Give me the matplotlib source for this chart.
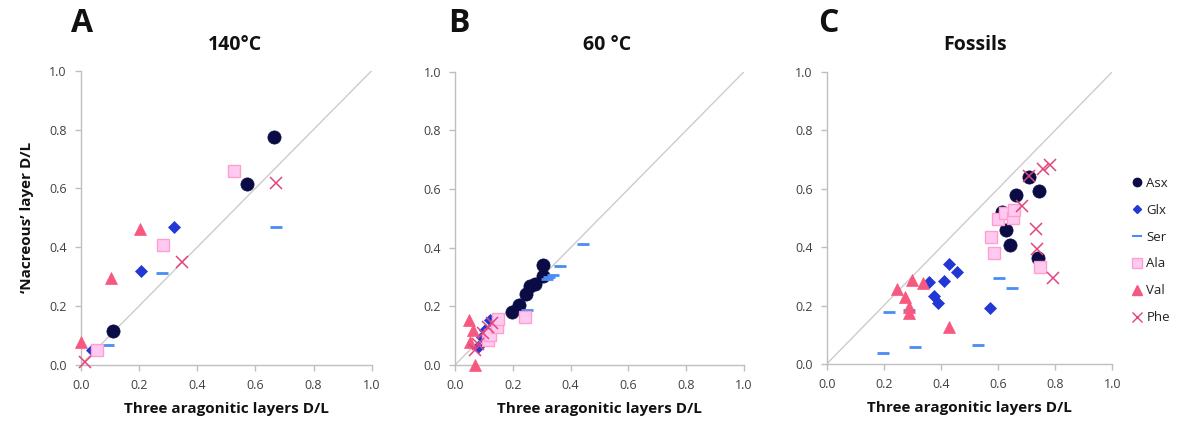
import matplotlib
matplotlib.use("Agg")
import matplotlib.pyplot as plt
from matplotlib.lines import Line2D

plt.rcParams['font.family'] = ['Open Sans', 'DejaVu Sans']

# ---------------- data ----------------
# Panel A: 140 °C
a_asx_x = [0.112, 0.572, 0.663]
a_asx_y = [0.116, 0.616, 0.775]
a_glx_x = [0.038, 0.207, 0.320]
a_glx_y = [0.051, 0.318, 0.468]
a_ser_x = [0.095, 0.279, 0.671]
a_ser_y = [0.068, 0.311, 0.470]
a_ala_x = [0.057, 0.283, 0.528]
a_ala_y = [0.051, 0.407, 0.659]
a_val_x = [0.0, 0.103, 0.205]
a_val_y = [0.079, 0.294, 0.462]
a_phe_x = [0.015, 0.349, 0.670]
a_phe_y = [0.009, 0.351, 0.619]

# Panel B: 60 °C
b_asx_x = [0.196, 0.223, 0.246, 0.260, 0.277, 0.306, 0.306]
b_asx_y = [0.180, 0.205, 0.241, 0.269, 0.275, 0.303, 0.341]
b_glx_x = [0.081, 0.092, 0.104, 0.121]
b_glx_y = [0.062, 0.097, 0.119, 0.153]
b_ser_x = [0.250, 0.317, 0.326, 0.340, 0.363, 0.444]
b_ser_y = [0.186, 0.292, 0.299, 0.307, 0.339, 0.413]
b_ala_x = [0.115, 0.121, 0.144, 0.150, 0.242]
b_ala_y = [0.085, 0.102, 0.128, 0.156, 0.165]
b_val_x = [0.048, 0.052, 0.061, 0.069]
b_val_y = [0.153, 0.080, 0.119, 0.0]
b_phe_x = [0.069, 0.081, 0.098, 0.115, 0.127]
b_phe_y = [0.051, 0.073, 0.108, 0.131, 0.142]

# Panel C: Fossils
c_asx_x = [0.615, 0.628, 0.642, 0.663, 0.708, 0.741, 0.744]
c_asx_y = [0.520, 0.458, 0.407, 0.578, 0.639, 0.361, 0.593]
c_glx_x = [0.359, 0.377, 0.391, 0.412, 0.428, 0.455, 0.572]
c_glx_y = [0.282, 0.234, 0.208, 0.285, 0.341, 0.314, 0.190]
c_ser_x = [0.198, 0.218, 0.289, 0.309, 0.528, 0.603, 0.648]
c_ser_y = [0.037, 0.179, 0.185, 0.059, 0.065, 0.293, 0.261]
c_ala_x = [0.575, 0.587, 0.601, 0.623, 0.651, 0.656, 0.747]
c_ala_y = [0.436, 0.381, 0.496, 0.515, 0.500, 0.527, 0.333]
c_val_x = [0.247, 0.274, 0.289, 0.289, 0.300, 0.338, 0.428]
c_val_y = [0.257, 0.230, 0.196, 0.173, 0.287, 0.276, 0.125]
c_phe_x = [0.683, 0.709, 0.733, 0.737, 0.756, 0.782, 0.791]
c_phe_y = [0.542, 0.643, 0.462, 0.393, 0.666, 0.681, 0.293]

panel_letters = ["A", "B", "C"]
panel_titles = ["140°C", "60 °C", "Fossils"]
series_names = ["Asx", "Glx", "Ser", "Ala", "Val", "Phe"]
ticks = [0.0, 0.2, 0.4, 0.6, 0.8, 1.0]
tick_labels = ["0.0", "0.2", "0.4", "0.6", "0.8", "1.0"]

panels = [
    [(a_asx_x, a_asx_y), (a_glx_x, a_glx_y), (a_ser_x, a_ser_y),
     (a_ala_x, a_ala_y), (a_val_x, a_val_y), (a_phe_x, a_phe_y)],
    [(b_asx_x, b_asx_y), (b_glx_x, b_glx_y), (b_ser_x, b_ser_y),
     (b_ala_x, b_ala_y), (b_val_x, b_val_y), (b_phe_x, b_phe_y)],
    [(c_asx_x, c_asx_y), (c_glx_x, c_glx_y), (c_ser_x, c_ser_y),
     (c_ala_x, c_ala_y), (c_val_x, c_val_y), (c_phe_x, c_phe_y)],
]

# ---------------- styles ----------------
styles = {
    "Asx": dict(marker="o", ms=9.5, mfc="#0b0b45", mec="#0b0b45", mew=0.5),
    "Glx": dict(marker="D", ms=6, mfc="#2237d3", mec="#2237d3", mew=0.5),
    "Ser": dict(marker="_", ms=8, mfc="#4a8cf5", mec="#4a8cf5", mew=2),
    "Ala": dict(marker="s", ms=8.5, mfc="#ffc9f0", mec="#ff9fd0", mew=1),
    "Val": dict(marker="^", ms=8.5, mfc="#f7587f", mec="#f7587f", mew=0.5),
    "Phe": dict(marker="x", ms=9, mfc="#e2457c", mec="#e2457c", mew=1.1),
}
legend_styles = {
    "Asx": dict(marker="o", ms=6, mfc="#0b0b45", mec="#0b0b45"),
    "Glx": dict(marker="D", ms=4.5, mfc="#2237d3", mec="#2237d3"),
    "Ser": dict(marker="_", ms=7, mfc="#4a8cf5", mec="#4a8cf5", mew=1.5),
    "Ala": dict(marker="s", ms=6.5, mfc="#ffc9f0", mec="#ff9fd0", mew=1),
    "Val": dict(marker="^", ms=6.5, mfc="#f7587f", mec="#f7587f"),
    "Phe": dict(marker="x", ms=7, mfc="#e2457c", mec="#e2457c", mew=1),
}

fig = plt.figure(figsize=(11.87, 4.25), dpi=100)
W, H = 1187, 425
axes_px = [(80.7, 365, 291, 294.3), (455, 365, 289, 293.3), (826.7, 364, 285.7, 292.3)]
title_x = [235, 607, 975]
letter_x = [82, 459, 828]

spine_col = "#bfbfbf"
text_col = "#404040"

for i, (l, b, w, h) in enumerate(axes_px):
    ax = fig.add_axes([l / W, (H - b) / H, w / W, h / H])
    ax.plot([0, 1], [0, 1], color="#cccccc", lw=1.0, zorder=1)
    for name, (xs, ys) in zip(series_names, panels[i]):
        ax.plot(xs, ys, ls="none", zorder=3, clip_on=False, **styles[name])
    ax.set_xlim(0, 1)
    ax.set_ylim(0, 1)
    ax.set_xticks(ticks)
    ax.set_yticks(ticks)
    ax.set_xticklabels(tick_labels)
    ax.set_yticklabels(tick_labels)
    for s in ["top", "right"]:
        ax.spines[s].set_visible(False)
    for s in ["left", "bottom"]:
        ax.spines[s].set_color(spine_col)
        ax.spines[s].set_linewidth(1.0)
    ax.tick_params(axis="both", colors=spine_col, labelcolor=text_col,
                   labelsize=9, length=4, width=1, direction="out", pad=6)
    ax.set_xlabel("Three aragonitic layers D/L", fontsize=11, fontweight="bold",
                  color="#111111", labelpad=7)
    if i == 0:
        ax.set_ylabel("\u2018Nacreous\u2019 layer D/L", fontsize=11, fontweight="bold",
                      color="#111111", labelpad=11)
    fig.text(title_x[i] / W, 1 - 45 / H, panel_titles[i], ha="center", va="center",
             fontsize=14, fontweight="bold", color="#111111")
    fig.text(letter_x[i] / W, 1 - 23 / H, panel_letters[i], ha="center", va="center",
             fontsize=23, fontweight="bold", color="#111111")

handles = [Line2D([], [], ls="none", **legend_styles[n]) for n in series_names]
fig.legend(handles, series_names, loc="upper left",
           bbox_to_anchor=(1120 / W, 1 - 165 / H), frameon=False,
           fontsize=9.5, handlelength=0.8, handletextpad=0.3, labelspacing=1.05,
           labelcolor="#222222")

fig.savefig("out.png", dpi=100)
